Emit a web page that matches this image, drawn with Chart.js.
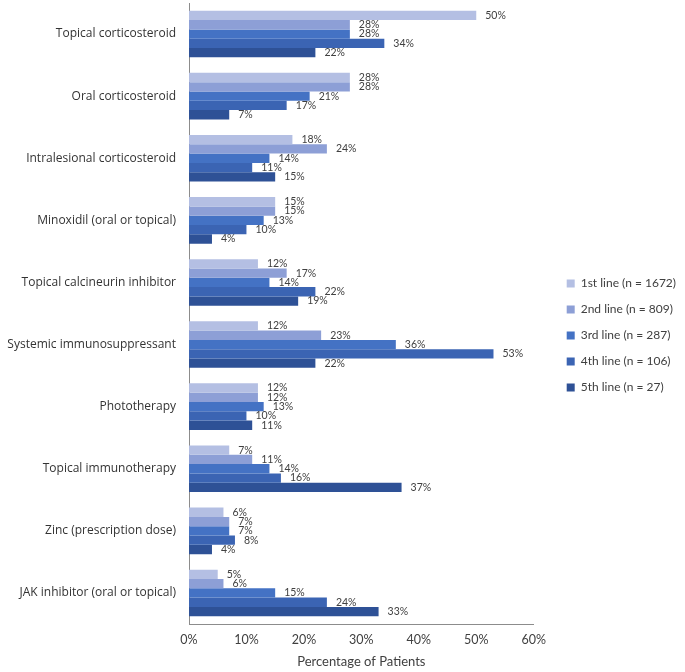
<!DOCTYPE html>
<html>
<head>
<meta charset="utf-8">
<script src="https://cdn.jsdelivr.net/npm/chart.js@4.4.0/dist/chart.umd.min.js"></script>
<style>
  html, body { margin: 0; padding: 0; background: #fff; }
  #wrap { position: relative; width: 685px; height: 672px; }
</style>
</head>
<body>
<div id="wrap"><canvas id="chart"></canvas></div>
<script>
// treatments, top to bottom
const categories = [
  "Topical corticosteroid",
  "Oral corticosteroid",
  "Intralesional corticosteroid",
  "Minoxidil (oral or topical)",
  "Topical calcineurin inhibitor",
  "Systemic immunosuppressant",
  "Phototherapy",
  "Topical immunotherapy",
  "Zinc (prescription dose)",
  "JAK inhibitor (oral or topical)"
];
const seriesNames = [
  "1st line (n = 1672)",
  "2nd line (n = 809)",
  "3rd line (n = 287)",
  "4th line (n = 106)",
  "5th line (n = 27)"
];
const line1 = [50, 28, 18, 15, 12, 12, 12, 7, 6, 5];
const line2 = [28, 28, 24, 15, 17, 23, 12, 11, 7, 6];
const line3 = [28, 21, 14, 13, 14, 36, 13, 14, 7, 15];
const line4 = [34, 17, 11, 10, 22, 53, 10, 16, 8, 24];
const line5 = [22, 7, 15, 4, 19, 22, 11, 37, 4, 33];
const xTicks = [0, 10, 20, 30, 40, 50, 60];

const colors = ["#b4bfe3", "#8d9fd6", "#4472c4", "#3b64b3", "#2e5196"];
const FONT = "Lato, 'Open Sans', sans-serif";
const CAT_FONT = "'Open Sans', Lato, sans-serif";

// draw the % labels at the end of each bar
const barLabels = {
  id: "barLabels",
  afterDatasetsDraw(chart) {
    const ctx = chart.ctx;
    ctx.save();
    ctx.font = "10.5px " + FONT;
    ctx.fillStyle = "#404040";
    ctx.textAlign = "left";
    ctx.textBaseline = "middle";
    chart.data.datasets.forEach((ds, i) => {
      chart.getDatasetMeta(i).data.forEach((bar, j) => {
        ctx.fillText(ds.data[j] + "%", bar.x + 9, bar.y);
      });
    });
    ctx.restore();
  }
};

// widen the legend box so the plot stops short of it, then nudge it right
const LEGEND_EXTRA = 18;
const LEGEND_SHIFT = 19;
const legendSpace = {
  id: "legendSpace",
  afterInit(chart) {
    const lg = chart.legend;
    const fit = lg.fit.bind(lg);
    lg.fit = function () { fit(); this.width += LEGEND_EXTRA; };
  },
  afterLayout(chart) {
    chart.legend.left += LEGEND_SHIFT;
    chart.legend.right += LEGEND_SHIFT;
  }
};

const allSeries = [line1, line2, line3, line4, line5];

new Chart(document.getElementById("chart"), {
  type: "bar",
  data: {
    labels: categories,
    datasets: allSeries.map((d, i) => ({
      label: seriesNames[i],
      data: d,
      backgroundColor: colors[i],
      borderWidth: 0,
      categoryPercentage: 0.75,
      barPercentage: 1.0
    }))
  },
  options: {
    indexAxis: "y",
    responsive: true,
    maintainAspectRatio: false,
    animation: false,
    layout: { padding: { top: 3, left: 0, right: 0, bottom: 4 } },
    scales: {
      x: {
        min: 0,
        max: 60,
        grid: { display: false, drawTicks: false },
        border: { display: true, color: "#8c8c8c", width: 1 },
        afterBuildTicks: (axis) => { axis.ticks = xTicks.map(v => ({ value: v })); },
        ticks: {
          color: "#404040",
          font: { size: 12.5, family: FONT },
          padding: 8,
          callback: (v) => v + "%"
        },
        title: {
          display: true,
          text: "Percentage of Patients",
          color: "#404040",
          font: { size: 13, family: FONT, lineHeight: 1 },
          padding: { top: 0, bottom: 0 }
        }
      },
      y: {
        grid: { display: false, drawTicks: false },
        border: { display: true, color: "#8c8c8c", width: 1 },
        ticks: {
          color: "#333333",
          font: { size: 12, family: CAT_FONT },
          padding: 13
        },
        afterFit: (scale) => {
          scale.width = 189;
          scale.paddingTop = 0;
          scale.paddingBottom = 0;
        }
      }
    },
    plugins: {
      legend: {
        position: "right",
        labels: {
          color: "#404040",
          font: { size: 12, family: FONT },
          boxWidth: 8,
          boxHeight: 8,
          padding: 14
        }
      },
      tooltip: { enabled: false }
    }
  },
  plugins: [barLabels, legendSpace]
});
</script>
</body>
</html>
